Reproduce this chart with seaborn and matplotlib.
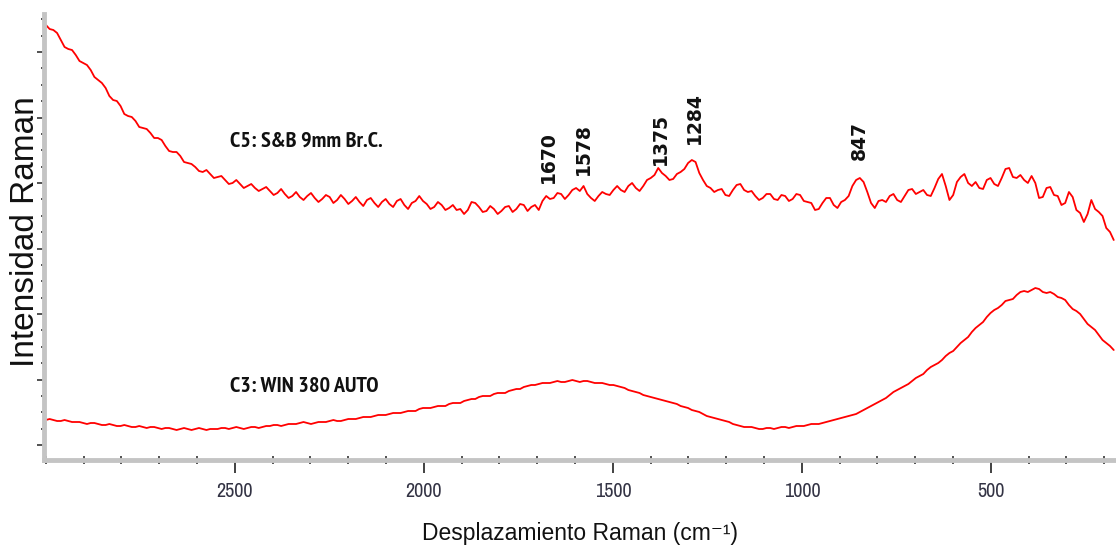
import numpy as np
import pandas as pd
import matplotlib
matplotlib.use("Agg")
import matplotlib.pyplot as plt
from matplotlib import font_manager as fm
from matplotlib.ticker import MultipleLocator, FixedLocator
import seaborn as sns

# ---------------- data ----------------
wavenumber = np.linspace(3000, 175, 287)

c5_intensity = [
    420, 416, 415, 412, 405, 398, 396, 395, 390, 384,
    382, 380, 375, 368, 365, 362, 357, 349, 345, 344,
    339, 331, 329, 328, 324, 318, 317, 316, 312, 307,
    307, 305, 299, 294, 293, 293, 289, 283, 282, 281,
    278, 274, 273, 275, 271, 267, 268, 269, 265, 261,
    262, 265, 261, 257, 259, 261, 257, 254, 256, 258,
    254, 250, 252, 256, 251, 247, 249, 253, 248, 245,
    249, 252, 247, 243, 246, 250, 248, 242, 245, 250,
    246, 241, 244, 248, 243, 239, 245, 247, 242, 238,
    243, 246, 241, 238, 244, 246, 240, 236, 242, 244,
    249, 244, 241, 236, 238, 243, 240, 235, 237, 240,
    235, 236, 231, 235, 243, 242, 238, 233, 234, 239,
    236, 231, 234, 238, 239, 233, 236, 241, 240, 234,
    238, 240, 235, 244, 249, 246, 247, 252, 251, 246,
    250, 255, 257, 254, 259, 251, 247, 244, 249, 253,
    251, 250, 255, 259, 255, 253, 259, 262, 257, 254,
    259, 265, 267, 270, 277, 272, 269, 265, 266, 271,
    273, 276, 282, 285, 283, 272, 265, 259, 257, 253,
    255, 256, 250, 249, 255, 260, 261, 255, 253, 254,
    249, 245, 247, 251, 251, 246, 245, 250, 249, 244,
    246, 251, 250, 244, 243, 242, 235, 236, 242, 247,
    247, 240, 237, 243, 245, 249, 259, 265, 267, 263,
    253, 242, 237, 244, 245, 243, 249, 251, 245, 243,
    249, 255, 256, 251, 253, 255, 250, 249, 257, 266,
    271, 259, 245, 250, 263, 268, 271, 262, 259, 263,
    257, 256, 265, 267, 261, 259, 267, 276, 277, 268,
    267, 270, 265, 262, 269, 262, 247, 248, 257, 258,
    250, 249, 240, 242, 253, 248, 235, 232, 223, 231,
    245, 236, 233, 229, 217, 213, 205,
]

c3_intensity = [
    25, 26, 25, 24, 24, 25, 24, 23, 23, 23,
    22, 21, 22, 22, 21, 20, 20, 21, 20, 19,
    19, 20, 19, 18, 18, 19, 18, 17, 18, 18,
    17, 16, 17, 17, 16, 15, 16, 17, 16, 15,
    16, 17, 16, 15, 16, 16, 16, 17, 17, 16,
    17, 18, 17, 16, 17, 18, 18, 17, 18, 19,
    19, 20, 20, 19, 20, 21, 21, 21, 22, 23,
    22, 21, 22, 23, 23, 23, 24, 25, 24, 24,
    25, 26, 26, 26, 27, 28, 28, 28, 29, 30,
    30, 30, 31, 32, 32, 32, 33, 34, 34, 34,
    36, 37, 37, 37, 38, 39, 39, 39, 41, 42,
    42, 42, 44, 45, 46, 46, 48, 49, 49, 49,
    51, 52, 52, 52, 54, 55, 56, 56, 58, 59,
    60, 60, 61, 62, 62, 62, 63, 64, 63, 63,
    64, 65, 64, 63, 64, 64, 63, 62, 62, 62,
    61, 60, 60, 59, 58, 57, 55, 54, 53, 52,
    50, 49, 48, 47, 46, 45, 44, 43, 42, 41,
    39, 38, 37, 35, 34, 33, 31, 29, 28, 27,
    26, 25, 24, 23, 21, 20, 19, 18, 18, 18,
    17, 16, 16, 17, 17, 16, 17, 18, 18, 17,
    18, 19, 19, 19, 20, 21, 21, 21, 22, 23,
    24, 25, 26, 27, 28, 29, 30, 31, 33, 35,
    37, 39, 41, 43, 45, 47, 50, 53, 55, 57,
    59, 61, 64, 67, 69, 71, 75, 78, 80, 82,
    85, 89, 92, 94, 98, 102, 105, 108, 113, 117,
    120, 123, 128, 132, 135, 137, 140, 144, 145, 146,
    150, 153, 154, 153, 155, 157, 156, 153, 152, 153,
    151, 148, 147, 145, 140, 136, 134, 131, 126, 121,
    118, 115, 110, 105, 102, 99, 95,
]

series_names = ["C5: S&B 9mm Br.C.", "C3: WIN 380 AUTO"]
peak_labels = ["1670", "1578", "1375", "1284", "847"]
peak_wavenumbers = [1670, 1578, 1375, 1284, 847]
x_tick_values = [2500, 2000, 1500, 1000, 500]

# ---------------- layout / style ----------------
label_heights = [262, 270, 280, 301, 285]
series_label_pos = [(2513, 304), (2513, 58)]

sns.set_theme(style="white")
weights = {}
for f in fm.fontManager.ttflist:
    w = f.weight if isinstance(f.weight, int) else 700 if "bold" in str(f.weight) else 400
    weights.setdefault(f.name, set()).add(w)

narrow_cands = ["Liberation Sans Narrow", "Arimo Narrow", "Archivo Narrow",
                "PT Sans Narrow", "Roboto Condensed", "Open Sans Condensed",
                "IBM Plex Sans Condensed", "Fira Sans Condensed", "Encode Sans Condensed",
                "Barlow Semi Condensed", "Asap Condensed"]
narrow = next((c for c in narrow_cands if c in weights), "Liberation Sans")
is_narrow = narrow != "Liberation Sans"

bold_narrow = next((c for c in narrow_cands if c in weights and max(weights[c]) >= 600), None)
if bold_narrow is not None:
    label_font, label_size = bold_narrow, 16
elif "Carlito" in weights:
    label_font, label_size = "Carlito", 15
else:
    label_font, label_size = "Liberation Sans", 13.5

plt.rcParams["font.family"] = ["Liberation Sans", "DejaVu Sans"]

df = pd.DataFrame({
    "wavenumber": np.concatenate([wavenumber, wavenumber]),
    "intensity": np.concatenate([c5_intensity, c3_intensity]),
    "series": [series_names[0]] * len(wavenumber) + [series_names[1]] * len(wavenumber),
})

fig = plt.figure(figsize=(11.16, 5.51), dpi=100)
ax = fig.add_axes([44 / 1116, 91 / 551, 1072 / 1116, 446 / 551])

sns.lineplot(data=df, x="wavenumber", y="intensity", hue="series",
             palette=["#ff0000", "#ff0000"], legend=False, estimator=None,
             sort=False, linewidth=1.3, ax=ax)

ax.set_xlim(3005, 169)
ax.set_ylim(-15, 431)

for side in ["top", "right"]:
    ax.spines[side].set_visible(False)
for side in ["left", "bottom"]:
    ax.spines[side].set_color("#c4c4c4")
    ax.spines[side].set_linewidth(3.5)

ax.xaxis.set_major_locator(FixedLocator(x_tick_values))
ax.xaxis.set_minor_locator(MultipleLocator(100))
ax.yaxis.set_major_locator(MultipleLocator(65.5))
ax.yaxis.set_minor_locator(MultipleLocator(65.5 / 4))
ax.set_yticklabels([])

ax.tick_params(axis="x", which="major", direction="out", length=9, width=1.3,
               color="#333333", bottom=True, pad=7,
               labelsize=14.5 if is_narrow else 12, labelcolor="#333344")
ax.tick_params(axis="x", which="minor", direction="inout", length=6, width=1.2,
               color="#333333", bottom=True)
ax.tick_params(axis="y", which="major", direction="out", length=5, width=1.2,
               color="#333333", left=True)
ax.tick_params(axis="y", which="minor", direction="out", length=2.5, width=1.2,
               color="#333333", left=True)
for lab in ax.get_xticklabels():
    lab.set_family([narrow, "DejaVu Sans"])

ax.set_xlabel("Desplazamiento Raman (cm⁻¹)", fontsize=16.5,
              family=["Liberation Sans", "DejaVu Sans"], color="#111111", labelpad=15)
ax.set_ylabel("Intensidad Raman", fontsize=24, color="#111111")
ax.yaxis.set_label_coords(-0.003, 0.511)

for name, (px, py) in zip(series_names, series_label_pos):
    ax.text(px, py, name, ha="left", va="center", fontsize=label_size,
            fontweight="bold", family=[label_font, "DejaVu Sans"], color="#111111")

for lab, wn, h in zip(peak_labels, peak_wavenumbers, label_heights):
    ax.text(wn, h, lab, rotation=90, ha="center", va="bottom", fontsize=13.5,
            fontweight="bold", family=["DejaVu Sans"], color="#111111")

fig.savefig("out.png", dpi=100, facecolor="white")
